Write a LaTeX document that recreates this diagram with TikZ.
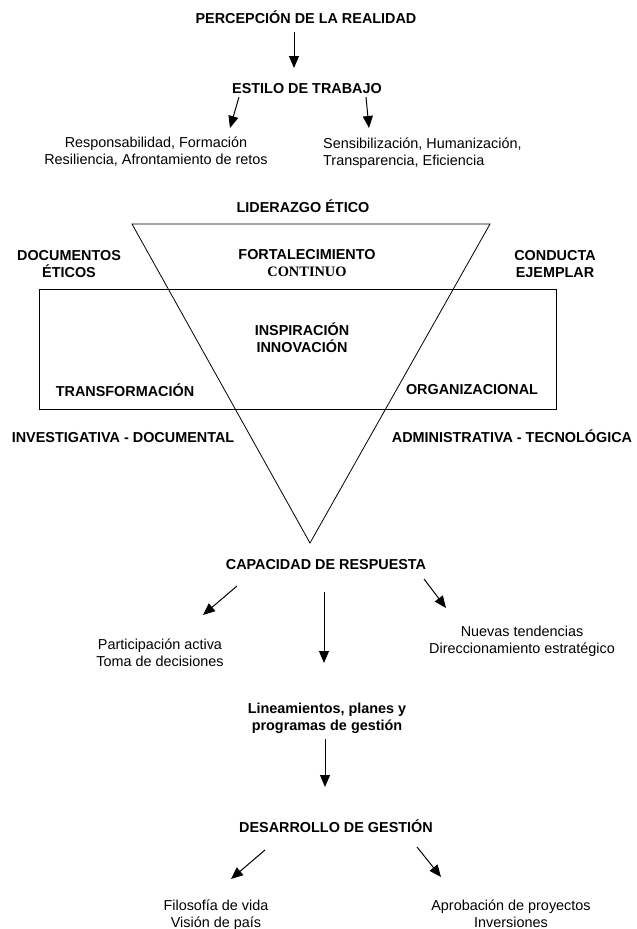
\documentclass[tikz,border=0pt]{standalone}
\usepackage{fontspec}
\setmainfont{Liberation Sans}
\newfontfamily\serifbold{Liberation Serif}
\usetikzlibrary{arrows.meta}
\begin{document}
\begin{tikzpicture}[x=1pt,y=-1pt,
  txt/.style={inner sep=0pt, anchor=base, align=center, font=\fontsize{14.4}{16.8}\selectfont},
  bold/.style={txt, font=\fontsize{14.4}{16.8}\selectfont\bfseries},
  arr/.style={-{Triangle[length=12pt,width=10pt]}, line width=1pt},
  frame/.style={line width=0.8pt}]
\useasboundingbox (0,0) rectangle (637,929);

% top part
\node[bold] (percep) at (306,23) {PERCEPCIÓN DE LA REALIDAD};
\node[bold] (estilo) at (307,93) {ESTILO DE TRABAJO};
\node[txt] (resp) at (156,164.5) {Responsabilidad, Formación\\Resiliencia, Afrontamiento de retos};
\node[txt, anchor=base west, align=left] (sens) at (323,165) {Sensibilización, Humanización,\\Transparencia, Eficiencia};

\coordinate (a1s) at (294,32);  \coordinate (a1e) at (294,68);
\coordinate (a2s) at (239,97);  \coordinate (a2e) at (230,128);
\coordinate (a3s) at (366,97);  \coordinate (a3e) at (369,128);
\draw[arr] (a1s) -- (a1e);
\draw[arr] (a2s) -- (a2e);
\draw[arr] (a3s) -- (a3e);

% triangle and rectangle
\coordinate (tl) at (132,224);
\coordinate (tr) at (490,224);
\coordinate (tb) at (310,543);
\draw[frame] (tl) -- (tr) -- (tb) -- cycle;
\coordinate (rl) at (39,289);
\coordinate (rr) at (556,409);
\draw[frame] (rl) rectangle (rr);

\node[bold] (lider) at (303,212) {LIDERAZGO ÉTICO};
\node[bold] (docs) at (69,277) {DOCUMENTOS\\ÉTICOS};
\node[bold] (cond) at (555,277) {CONDUCTA\\EJEMPLAR};
\node[bold] (fort) at (307,276.5) {FORTALECIMIENTO\\{\serifbold CONTINUO}};
\node[bold] (insp) at (302,352) {INSPIRACIÓN\\INNOVACIÓN};
\node[bold] (transf) at (125,396) {TRANSFORMACIÓN};
\node[bold] (org) at (472,394) {ORGANIZACIONAL};
\node[bold] (invest) at (123,442) {INVESTIGATIVA - DOCUMENTAL};
\node[bold] (admin) at (512,442) {ADMINISTRATIVA - TECNOLÓGICA};

% lower part
\node[bold] (capac) at (326,569) {CAPACIDAD DE RESPUESTA};
\node[txt] (partic) at (160,666) {Participación activa\\Toma de decisiones};
\node[txt] (nuevas) at (522,653) {Nuevas tendencias\\Direccionamiento estratégico};
\node[bold] (linea) at (327,730) {Lineamientos, planes y\\programas de gestión};
\node[bold] (desarr) at (336,832) {DESARROLLO DE GESTIÓN};
\node[txt] (filos) at (216,927) {Filosofía de vida\\Visión de país};
\node[txt] (aprob) at (511,927) {Aprobación de proyectos\\Inversiones};

\coordinate (a4s) at (237,586); \coordinate (a4e) at (203,615);
\coordinate (a5s) at (324,592); \coordinate (a5e) at (324,663);
\coordinate (a6s) at (424,579); \coordinate (a6e) at (446,608);
\coordinate (a7s) at (325,739); \coordinate (a7e) at (325,787);
\coordinate (a8s) at (265,850); \coordinate (a8e) at (231,879);
\coordinate (a9s) at (417,847); \coordinate (a9e) at (441,877);
\draw[arr] (a4s) -- (a4e);
\draw[arr] (a5s) -- (a5e);
\draw[arr] (a6s) -- (a6e);
\draw[arr] (a7s) -- (a7e);
\draw[arr] (a8s) -- (a8e);
\draw[arr] (a9s) -- (a9e);
\end{tikzpicture}
\end{document}
